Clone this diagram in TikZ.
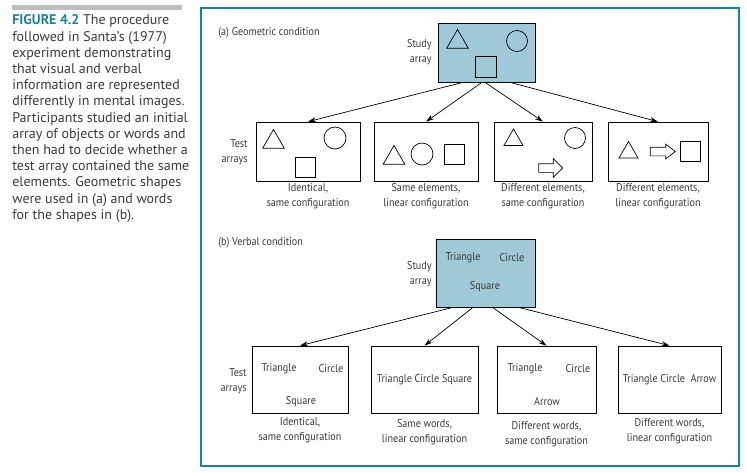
\documentclass[tikz,border=0pt]{standalone}
\usepackage{fontspec}
\setmainfont{PT Sans}
\newfontfamily\figfont[FakeStretch=0.9]{PT Sans}
\usepackage{tikz}
\usetikzlibrary{positioning}
\usetikzlibrary{arrows.meta}
\usetikzlibrary{shapes.geometric, shapes.arrows}
\definecolor{figteal}{HTML}{1B8494}
\definecolor{studyblue}{HTML}{9FC9D6}
\definecolor{captiongray}{HTML}{3A3A3A}
\definecolor{bargray}{HTML}{BEBEBE}

\begin{document}
\begin{tikzpicture}[
            x = 1pt, y = -1pt, % one unit = one pixel, y downwards
            > = {Stealth[length=8pt, width=5pt]}, % arrow head style
            line width = 0.7pt,
            font = \figfont\fontsize{11.3}{15}\selectfont,
            textcol/.style = {text = captiongray},
            studybox/.style = {draw, fill = studyblue, inner sep = 0pt},
            testbox/.style = {draw, inner sep = 0pt},
            side/.style = {textcol, align = right, anchor = east, inner sep = 1pt},
            boxlabel/.style = {textcol, align = center, inner sep = 2pt},
            word/.style = {textcol, inner sep = 0pt},
            tri/.style = {draw, regular polygon, regular polygon sides = 3,
                          minimum size = #1, inner sep = 0pt},
            circ/.style = {draw, circle, minimum size = #1, inner sep = 0pt},
            sq/.style = {draw, rectangle, minimum size = #1, inner sep = 0pt},
            blockarrow/.style = {draw, single arrow, single arrow head indent = 0pt,
                          inner sep = 4pt}
            ]

        \useasboundingbox (0,0) rectangle (747,472);

        % caption
        \fill[bargray] (12,5) rectangle (182,10);
        \node[textcol, anchor = north west, align = left, inner sep = 0pt,
              font = \fontsize{14}{16.2}\selectfont] (cap) at (12,14.5)
            {\textcolor{figteal}{\textbf{FIGURE 4.2}} The procedure\\
             followed in Santa’s (1977)\\
             experiment demonstrating\\
             that visual and verbal\\
             information are represented\\
             differently in mental images.\\
             Participants studied an initial\\
             array of objects or words and\\
             then had to decide whether a\\
             test array contained the same\\
             elements. Geometric shapes\\
             were used in (a) and words\\
             for the shapes in (b).};

        % frame
        \draw[figteal, line width = 2.5pt] (201,8) rectangle (739,466);

        % (a) geometric condition
        \node[textcol, anchor = west, inner sep = 0pt] (titleA) at (218,33) {(a) Geometric condition};

        \node[studybox, minimum width = 97pt, minimum height = 59pt] (SA) at (486.5,52.5) {};
        \node[side] (SAlab) at (433,52) {Study\\array};
        \node[tri = 25pt] (SAt) at (457.5,42) {};
        \node[circ = 21pt] (SAc) at (517,41) {};
        \node[sq = 21pt] (SAs) at (485.5,67) {};

        \node[testbox, minimum width = 104pt, minimum height = 59pt] (TA1) at (308,151.5) {};
        \node[testbox, minimum width = 104pt, minimum height = 59pt] (TA2) at (426,151.5) {};
        \node[testbox, minimum width = 98pt, minimum height = 59pt] (TA3) at (543,151.5) {};
        \node[testbox, minimum width = 100pt, minimum height = 59pt] (TA4) at (658,151.5) {};
        \node[side] (TAlab) at (249,152) {Test\\arrays};

        % shapes in the test arrays
        \node[tri = 25pt] (TA1t) at (273.5,142) {};
        \node[circ = 22pt] (TA1c) at (335,138) {};
        \node[sq = 20pt] (TA1s) at (305,167) {};

        \node[tri = 25pt] (TA2t) at (394,158) {};
        \node[circ = 22pt] (TA2c) at (422,154) {};
        \node[sq = 20pt] (TA2s) at (454,154) {};

        \node[tri = 22pt] (TA3t) at (513.5,140) {};
        \node[circ = 21pt] (TA3c) at (575,138) {};
        \node[blockarrow, minimum height = 24pt, single arrow head extend = 5pt] (TA3a) at (548.5,168) {};

        \node[tri = 22pt] (TA4t) at (628.5,152.5) {};
        \node[blockarrow, minimum height = 25pt, single arrow head extend = 3pt,
              single arrow tip angle = 75] (TA4a) at (660,151.5) {};
        \node[sq = 20pt] (TA4s) at (690,151) {};

        \node[boxlabel] (LA1) [below = 0pt of TA1] {Identical,\\same configuration};
        \node[boxlabel] (LA2) [below = 0pt of TA2] {Same elements,\\linear configuration};
        \node[boxlabel] (LA3) [below = 0pt of TA3] {Different elements,\\same configuration};
        \node[boxlabel] (LA4) [below = 0pt of TA4] {Different elements,\\linear configuration};

        \draw[->] ([xshift = -23.5pt]SA.south) -- (TA1.north);
        \draw[->] ([xshift = -4.5pt]SA.south) -- (TA2.north);
        \draw[->] ([xshift = -1.5pt]SA.south) -- (TA3.north);
        \draw[->] ([xshift = 23.5pt]SA.south) -- (TA4.north);

        % (b) verbal condition
        \node[textcol, anchor = west, inner sep = 0pt] (titleB) at (218,243) {(b) Verbal condition};

        \node[studybox, minimum width = 99pt, minimum height = 68pt] (SB) at (485.5,273) {};
        \node[side] (SBlab) at (433,274.5) {Study\\array};
        \node[word] (SBt) at (463,258) {Triangle};
        \node[word] (SBc) at (512,258) {Circle};
        \node[word] (SBs) at (485,287) {Square};

        \node[testbox, minimum width = 96pt, minimum height = 67pt] (TB1) at (300,379.5) {};
        \node[testbox, minimum width = 107pt, minimum height = 67pt] (TB2) at (424.5,379.5) {};
        \node[testbox, minimum width = 99pt, minimum height = 67pt] (TB3) at (546.5,379.5) {};
        \node[testbox, minimum width = 103pt, minimum height = 67pt] (TB4) at (669.5,379.5) {};
        \node[side] (TBlab) at (248,381) {Test\\arrays};

        % words in the test arrays
        \node[word] (TB1t) at (279,369) {Triangle};
        \node[word] (TB1c) at (331,369) {Circle};
        \node[word] (TB1s) at (301,402) {Square};
        \node[word] (TB2w) at (TB2) {Triangle Circle Square};
        \node[word] (TB3t) at (525,369) {Triangle};
        \node[word] (TB3c) at (578,369) {Circle};
        \node[word] (TB3a) at (547,402) {Arrow};
        \node[word] (TB4w) at (TB4) {Triangle Circle\ \ Arrow};

        \node[boxlabel] (LB1) [below = 2pt of TB1] {Identical,\\same configuration};
        \node[boxlabel] (LB2) [below = 4pt of TB2] {Same words,\\linear configuration};
        \node[boxlabel] (LB3) [below = 6pt of TB3] {Different words,\\same configuration};
        \node[boxlabel] (LB4) [below = 3pt of TB4] {Different words,\\linear configuration};

        \draw[->] ([xshift = -32.5pt]SB.south) -- (TB1.north);
        \draw[->] ([xshift = -12.5pt]SB.south) -- (TB2.north);
        \draw[->] ([xshift = 7pt]SB.south) -- (TB3.north);
        \draw[->] ([xshift = 33pt]SB.south) -- (TB4.north);

  \end{tikzpicture}
\end{document}
